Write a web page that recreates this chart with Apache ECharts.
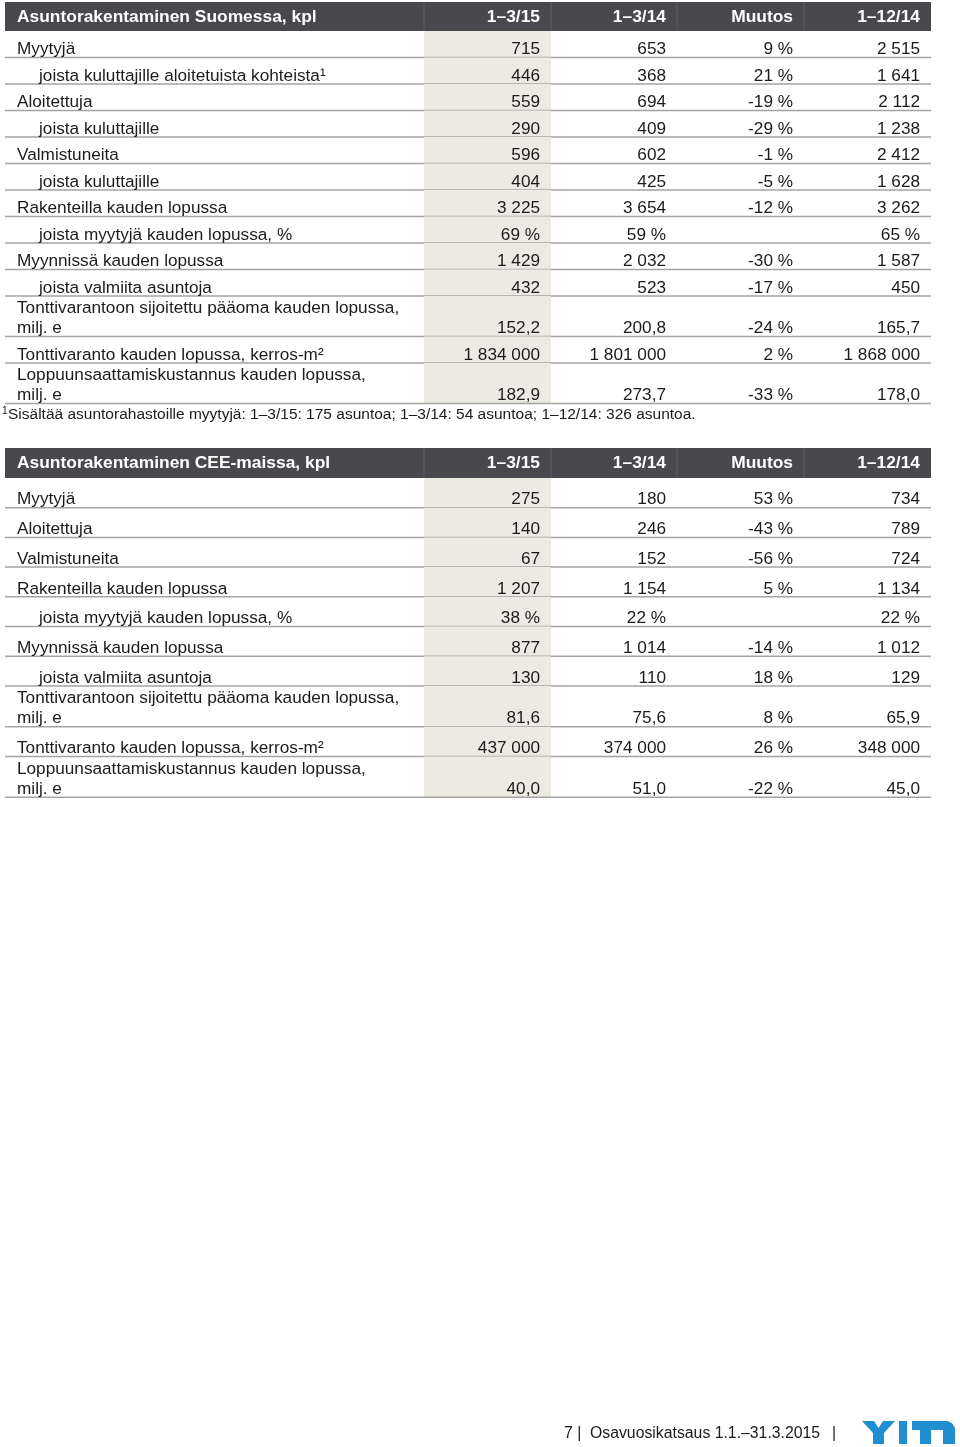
<!DOCTYPE html>
<html>
<head>
<meta charset="utf-8">
<script src="https://cdn.jsdelivr.net/npm/echarts@6/dist/echarts.min.js"></script>
<style>
html, body { margin: 0; padding: 0; background: #fff; }
#chart { width: 960px; height: 1447px; }
</style>
</head>
<body>
<div id="chart"></div>
<script>
// sarakeotsikot
const colHeads = ['1–3/15', '1–3/14', 'Muutos', '1–12/14']

// Asuntorakentaminen Suomessa
const finTitle = 'Asuntorakentaminen Suomessa, kpl'
const finLabels = [
  'Myytyjä',
  'joista kuluttajille aloitetuista kohteista¹',
  'Aloitettuja',
  'joista kuluttajille',
  'Valmistuneita',
  'joista kuluttajille',
  'Rakenteilla kauden lopussa',
  'joista myytyjä kauden lopussa, %',
  'Myynnissä kauden lopussa',
  'joista valmiita asuntoja',
  'Tonttivarantoon sijoitettu pääoma kauden lopussa,\nmilj. e',
  'Tonttivaranto kauden lopussa, kerros-m²',
  'Loppuunsaattamiskustannus kauden lopussa,\nmilj. e'
]
const finIndent = [0, 1, 0, 1, 0, 1, 0, 1, 0, 1, 0, 0, 0]
const finQ115 = ['715', '446', '559', '290', '596', '404', '3 225', '69 %', '1 429', '432', '152,2', '1 834 000', '182,9']
const finQ114 = ['653', '368', '694', '409', '602', '425', '3 654', '59 %', '2 032', '523', '200,8', '1 801 000', '273,7']
const finChange = ['9 %', '21 %', '-19 %', '-29 %', '-1 %', '-5 %', '-12 %', '', '-30 %', '-17 %', '-24 %', '2 %', '-33 %']
const finY14 = ['2 515', '1 641', '2 112', '1 238', '2 412', '1 628', '3 262', '65 %', '1 587', '450', '165,7', '1 868 000', '178,0']

// Asuntorakentaminen CEE-maissa
const ceeTitle = 'Asuntorakentaminen CEE-maissa, kpl'
const ceeLabels = [
  'Myytyjä',
  'Aloitettuja',
  'Valmistuneita',
  'Rakenteilla kauden lopussa',
  'joista myytyjä kauden lopussa, %',
  'Myynnissä kauden lopussa',
  'joista valmiita asuntoja',
  'Tonttivarantoon sijoitettu pääoma kauden lopussa,\nmilj. e',
  'Tonttivaranto kauden lopussa, kerros-m²',
  'Loppuunsaattamiskustannus kauden lopussa,\nmilj. e'
]
const ceeIndent = [0, 0, 0, 0, 1, 0, 1, 0, 0, 0]
const ceeQ115 = ['275', '140', '67', '1 207', '38 %', '877', '130', '81,6', '437 000', '40,0']
const ceeQ114 = ['180', '246', '152', '1 154', '22 %', '1 014', '110', '75,6', '374 000', '51,0']
const ceeChange = ['53 %', '-43 %', '-56 %', '5 %', '', '-14 %', '18 %', '8 %', '26 %', '-22 %']
const ceeY14 = ['734', '789', '724', '1 134', '22 %', '1 012', '129', '65,9', '348 000', '45,0']

const footnote = 'Sisältää asuntorahastoille myytyjä: 1–3/15: 175 asuntoa; 1–3/14: 54 asuntoa; 1–12/14: 326 asuntoa.'
const pageNo = '7 |'
const docTitle = 'Osavuosikatsaus 1.1.–31.3.2015'

// ulkoasu
const FONT = '"Liberation Sans", Arial, Helvetica, sans-serif'
const colEdges = [0, 419, 546, 672, 799, 926]
const textColor = '#1b1b1b'
const headBg = '#48484d'
const hiliteBg = '#edebe1'
const ruleColor = '#a3a3a3'
const logoBlue = '#1f8fd2'

function buildTable(cfg) {
  // rivien alkukohdat
  const cum = [0]
  cfg.labels.forEach((l, i) => {
    const h = l.indexOf('\n') >= 0 ? cfg.doubleH : cfg.singleH
    cum.push(cum[i] + h)
  })
  cfg.cum = cum
  cfg.total = cum[cum.length - 1]
  return cfg
}

const tables = [
  buildTable({
    title: finTitle, labels: finLabels, indent: finIndent,
    cols: [finQ115, finQ114, finChange, finY14],
    top: 2, headH: 29, singleH: 26.5, doubleH: 40.5
  }),
  buildTable({
    title: ceeTitle, labels: ceeLabels, indent: ceeIndent,
    cols: [ceeQ115, ceeQ114, ceeChange, ceeY14],
    top: 448, headH: 30, singleH: 29.7, doubleH: 40.8
  })
]

const myChart = echarts.init(document.getElementById('chart'))

const grids = [], xAxes = [], yAxes = [], series = []
tables.forEach((t, ti) => {
  grids.push({ left: 5, width: 926, top: t.top, height: t.headH + t.total, containLabel: false })
  xAxes.push({ type: 'value', gridIndex: ti, min: 0, max: 926, show: false })
  yAxes.push({ type: 'value', gridIndex: ti, min: -t.headH, max: t.total, inverse: true, show: false })

  // otsikkorivi
  series.push({
    type: 'custom',
    xAxisIndex: ti, yAxisIndex: ti,
    clip: false,
    silent: true,
    data: [[0]],
    renderItem(params, api) {
      const tl = api.coord([0, -t.headH])
      const br = api.coord([926, 0])
      const children = [{
        type: 'rect',
        shape: { x: tl[0], y: tl[1], width: br[0] - tl[0], height: br[1] - tl[1] },
        style: { fill: headBg }
      }]
      for (let k = 1; k < 5; k++) {
        const x = api.coord([colEdges[k], 0])[0]
        children.push({
          type: 'line',
          shape: { x1: x, y1: tl[1], x2: x, y2: br[1] },
          style: { stroke: '#5f5f64', lineWidth: 1 }
        })
      }
      const ty = (tl[1] + br[1]) / 2 + 0.5
      children.push({
        type: 'text',
        style: {
          text: t.title, x: api.coord([12, 0])[0], y: ty,
          fill: '#fff', font: 'bold 17.4px ' + FONT, align: 'left', verticalAlign: 'middle'
        }
      })
      colHeads.forEach((h, k) => {
        children.push({
          type: 'text',
          style: {
            text: h, x: api.coord([colEdges[k + 2] - 11, 0])[0], y: ty,
            fill: '#fff', font: 'bold 17.4px ' + FONT, align: 'right', verticalAlign: 'middle'
          }
        })
      })
      return { type: 'group', children }
    }
  })

  // datarivit
  series.push({
    type: 'custom',
    xAxisIndex: ti, yAxisIndex: ti,
    clip: false,
    silent: true,
    data: t.labels.map((l, i) => [i]),
    renderItem(params, api) {
      const i = api.value(0)
      const tl = api.coord([0, t.cum[i]])
      const br = api.coord([926, t.cum[i + 1]])
      const hx1 = api.coord([colEdges[1], 0])[0]
      const hx2 = api.coord([colEdges[2], 0])[0]
      const children = [{
        type: 'rect',
        shape: { x: hx1, y: tl[1], width: hx2 - hx1, height: br[1] - tl[1] },
        style: { fill: hiliteBg }
      }, {
        type: 'line',
        shape: { x1: tl[0], y1: br[1], x2: br[0], y2: br[1] },
        style: { stroke: ruleColor, lineWidth: 1.5 }
      }]
      const by = br[1] + 2
      children.push({
        type: 'text',
        style: {
          text: t.labels[i], x: api.coord([t.indent[i] ? 34 : 12, 0])[0], y: by,
          fill: textColor, font: '17.2px ' + FONT, lineHeight: 20,
          align: 'left', verticalAlign: 'bottom'
        }
      })
      t.cols.forEach((col, k) => {
        children.push({
          type: 'text',
          style: {
            text: col[i], x: api.coord([colEdges[k + 2] - 11, 0])[0], y: by,
            fill: textColor, font: '17.2px ' + FONT, lineHeight: 20,
            align: 'right', verticalAlign: 'bottom'
          }
        })
      })
      return { type: 'group', children }
    }
  })
})

myChart.setOption({
  animation: false,
  grid: grids,
  xAxis: xAxes,
  yAxis: yAxes,
  series,
  graphic: [
    { type: 'text', left: 2, top: 406, style: { text: '1', font: '10px ' + FONT, fill: textColor } },
    { type: 'text', left: 8, top: 407, style: { text: footnote, font: '15.5px ' + FONT, fill: textColor } },
    { type: 'text', left: 564, top: 1426, style: { text: pageNo, font: '15.8px ' + FONT, fill: textColor } },
    { type: 'text', left: 590, top: 1426, style: { text: docTitle, font: '15.8px ' + FONT, fill: textColor } },
    { type: 'text', left: 832, top: 1426, style: { text: '|', font: '15.8px ' + FONT, fill: textColor } },
    // YIT-logo
    {
      type: 'group', left: 862, top: 1421,
      children: [
        { type: 'polygon', shape: { points: [[0, 0], [12, 0], [16.5, 7], [21, 0], [33, 0], [22, 12], [22, 23], [11, 23], [11, 12]] }, style: { fill: logoBlue } },
        { type: 'rect', shape: { x: 37, y: 0, width: 8, height: 23 }, style: { fill: logoBlue } },
        { type: 'rect', shape: { x: 50, y: 0, width: 43, height: 9, r: [0, 10, 0, 0] }, style: { fill: logoBlue } },
        { type: 'rect', shape: { x: 58, y: 0, width: 11, height: 23 }, style: { fill: logoBlue } },
        { type: 'rect', shape: { x: 81, y: 0, width: 12, height: 23, r: [0, 10, 0, 0] }, style: { fill: logoBlue } }
      ]
    }
  ]
})
</script>
</body>
</html>
